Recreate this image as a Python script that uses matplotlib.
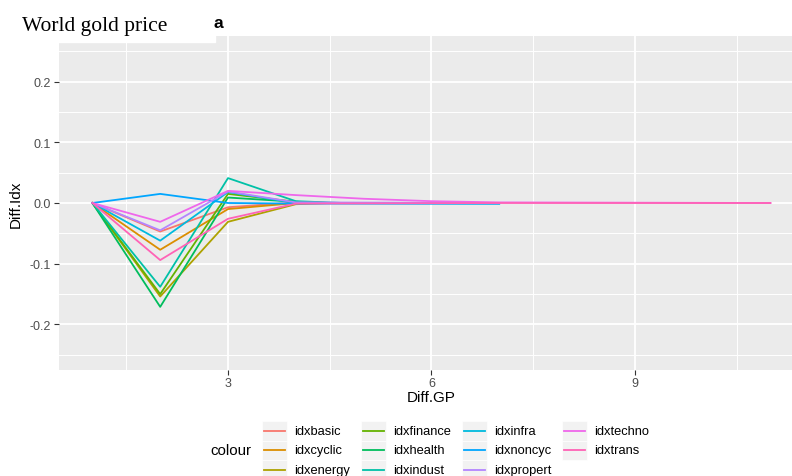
import matplotlib.pyplot as plt
from matplotlib.patches import Rectangle

plt.rcParams['font.family'] = ['Liberation Sans', 'DejaVu Sans']

# series names and ggplot hue colours
series = ['idxbasic', 'idxcyclic', 'idxenergy', 'idxfinance', 'idxhealth', 'idxindust',
          'idxinfra', 'idxnoncyc', 'idxpropert', 'idxtechno', 'idxtrans']
colors = ['#F8766D', '#DB8E00', '#AEA200', '#64B200', '#00BD5C', '#00C1A7',
          '#00BADE', '#00A6FF', '#B385FF', '#EF67EB', '#FF63B6']

# Diff.GP values (x)
gp_short = [1, 2, 3, 4, 4.5]
gp_indust = [1, 2, 3, 4, 4.7]
gp_mid = [1, 2, 3, 4, 7]
gp_techno = [1, 2, 3, 4, 5, 6, 7, 11]
gp_trans = [1, 2, 3, 4, 7, 11]

# Diff.Idx values (y)
idx_basic = [0.0, -0.047, -0.007, 0.001, 0.0]
idx_cyclic = [0.0, -0.077, -0.010, 0.0, 0.0]
idx_energy = [0.0, -0.154, -0.031, -0.002, 0.0]
idx_finance = [0.0, -0.150, 0.015, 0.002, 0.0]
idx_health = [0.0, -0.171, 0.009, 0.002, 0.0]
idx_indust = [0.0, -0.138, 0.041, 0.003, 0.0]
idx_infra = [0.0, -0.062, 0.018, 0.0, -0.001]
idx_noncyc = [0.0, 0.015, 0.0, -0.001, -0.001]
idx_propert = [0.0, -0.045, 0.019, 0.001, 0.0]
idx_techno = [0.0, -0.031, 0.020, 0.013, 0.007, 0.003, 0.001, 0.0]
idx_trans = [0.0, -0.094, -0.026, -0.001, 0.0, 0.0]

lines = [(gp_short, idx_basic), (gp_short, idx_cyclic), (gp_short, idx_energy),
         (gp_short, idx_finance), (gp_short, idx_health), (gp_indust, idx_indust),
         (gp_mid, idx_infra), (gp_mid, idx_noncyc), (gp_mid, idx_propert),
         (gp_techno, idx_techno), (gp_trans, idx_trans)]

W, H = 792, 477
fig = plt.figure(figsize=(W / 100, H / 100), dpi=100)

# panel (right part runs off the canvas as in the reference)
ax = fig.add_axes([58.5 / W, 1 - 371 / H, 745.8 / W, 334 / H])
ax.set_facecolor('#EBEBEB')
for (xs, ys), c in zip(lines, colors):
    ax.plot(xs, ys, color=c, lw=1.3)

ax.set_xlim(0.5, 11.5)
ax.set_ylim(-0.275, 0.275)
ax.set_xticks([3, 6, 9])
ax.set_xticklabels(['3', '6', '9'])
ax.set_xticks([1.5, 4.5, 7.5, 10.5], minor=True)
ax.set_yticks([-0.2, -0.1, 0.0, 0.1, 0.2])
ax.set_yticklabels(['-0.2', '-0.1', '0.0', '0.1', '0.2'])
ax.set_yticks([-0.25, -0.15, -0.05, 0.05, 0.15, 0.25], minor=True)
ax.grid(which='major', color='white', lw=1.3)
ax.grid(which='minor', color='white', lw=0.7)
ax.set_axisbelow(True)
for s in ax.spines.values():
    s.set_visible(False)
ax.tick_params(which='major', length=3.8, width=0.8, color='#333333',
               labelcolor='#4D4D4D', labelsize=9, pad=1.5)
ax.tick_params(which='minor', length=0)

fig.text(431 / W, 1 - 398 / H, 'Diff.GP', ha='center', va='center', fontsize=11)
fig.text(16 / W, 1 - 204 / H, 'Diff.Idx', ha='center', va='center',
         rotation=90, fontsize=11)

# overlay in pixel coords for title box and legend
ov = fig.add_axes([0, 0, 1, 1])
ov.set_xlim(0, W)
ov.set_ylim(H, 0)
ov.axis('off')
ov.patch.set_alpha(0)

ov.text(214, 28, 'a', fontweight='bold', fontsize=12.5, va='baseline', ha='left')
ov.add_patch(Rectangle((0, 0), 215, 43, color='white', zorder=2))
ov.text(22, 31, 'World gold price', family='Liberation Serif', fontsize=15.5,
        va='baseline', ha='left', zorder=3)

ov.text(210.5, 451.5, 'colour', fontsize=10.8, va='center', ha='left')
key_x = [261.7, 360.5, 461.7, 561.7]
row_y = [431.7, 451.3, 471.0]
kw, kh = 25.6, 19.6
for i, (name, c) in enumerate(zip(series, colors)):
    col, row = i // 3, i % 3
    x0, yc = key_x[col], row_y[row]
    ov.add_patch(Rectangle((x0, yc - kh / 2), kw, kh, facecolor='#F2F2F2',
                           edgecolor='white', lw=0.5))
    ov.plot([x0 + 2, x0 + kw - 2], [yc, yc], color=c, lw=1.3)
    ov.text(x0 + 32.5, yc, name, fontsize=9.3, va='center', ha='left')

fig.savefig('out.png', dpi=100)
